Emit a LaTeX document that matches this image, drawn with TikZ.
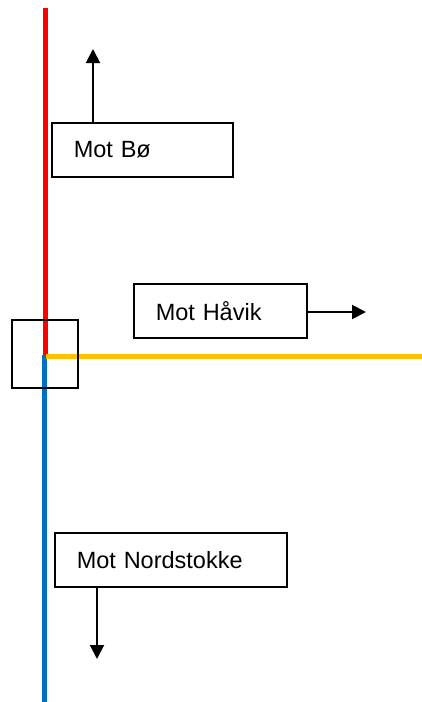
\documentclass[tikz,border=0pt]{standalone}
\usepackage{fontspec}
\setmainfont{Liberation Sans}
\usetikzlibrary{arrows.meta}
\definecolor{rd}{HTML}{FF0000}
\definecolor{yl}{HTML}{FFC000}
\definecolor{bl}{HTML}{0070C0}
\begin{document}
\begin{tikzpicture}[x=1pt,y=-1pt,
  lbl/.style={draw=black,line width=1.5pt,rectangle,anchor=north west,inner xsep=22pt,inner ysep=0pt,
    minimum height=54pt,align=left,font=\fontsize{23.5}{28}\selectfont},
  road/.style={line width=5pt},
  dir/.style={line width=2pt,-{Triangle[length=14pt,width=14pt]}}]
\useasboundingbox (0,0) rectangle (422,702);
% roads
\coordinate (top) at (45,8);
\coordinate (jn) at (45,356.5);
\coordinate (bot) at (44,702);
\coordinate (east) at (422,356.5);
\draw[road,rd] (top) -- (jn);
\draw[road,bl] (44,355) -- (bot);
\draw[road,yl] (46,356.5) -- (east);
% junction square
\node[draw=black,line width=1.5pt,rectangle,minimum width=66pt,minimum height=68pt,anchor=north west,inner sep=0pt] (sq) at (11,319) {};
% labels
\node[lbl,text width=137pt] (bo) at (51,122) {Mot Bø};
\node[lbl,text width=129pt] (havik) at (133,283) {Mot Håvik};
\node[lbl,text width=188pt] (nord) at (54,532) {Mot Nordstokke};
% arrows
\coordinate (boTip) at (93,49);
\coordinate (haTip) at (366,312);
\coordinate (noTip) at (97,659);
\draw[dir] (bo.north west -| boTip) -- (boTip);
\draw[dir] (havik.east |- haTip) -- (haTip);
\draw[dir] (nord.south west -| noTip) -- (noTip);
\end{tikzpicture}
\end{document}
